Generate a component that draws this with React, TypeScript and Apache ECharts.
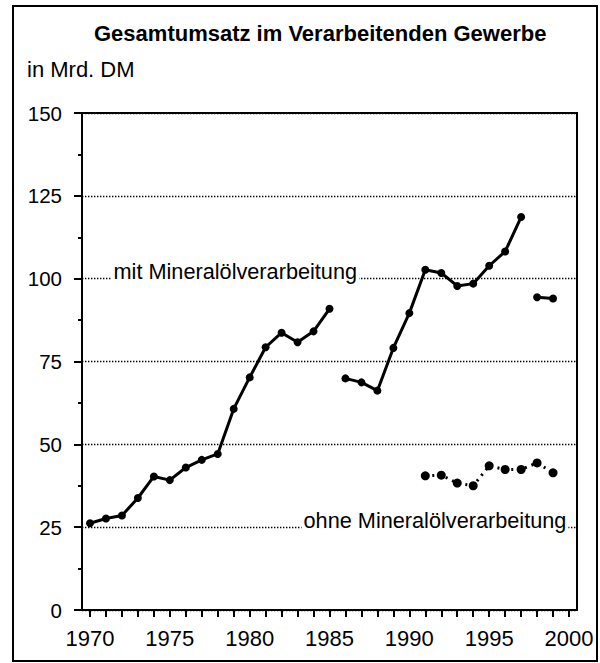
import React, { useEffect, useRef } from "react";
import * as echarts from "echarts";

const mitYearsA = [1970, 1971, 1972, 1973, 1974, 1975, 1976, 1977, 1978, 1979, 1980, 1981, 1982, 1983, 1984, 1985];
const mitValuesA = [26.2, 27.6, 28.5, 33.8, 40.3, 39.2, 43.0, 45.3, 47.1, 60.7, 70.2, 79.3, 83.7, 80.8, 84.1, 90.9];
const mitYearsB = [1986, 1987, 1988, 1989, 1990, 1991, 1992, 1993, 1994, 1995, 1996, 1997];
const mitValuesB = [69.9, 68.7, 66.2, 79.1, 89.6, 102.7, 101.7, 97.8, 98.5, 103.9, 108.2, 118.6];
const mitYearsC = [1998, 1999];
const mitValuesC = [94.4, 94.0];
const ohneYears = [1991, 1992, 1993, 1994, 1995, 1996, 1997, 1998, 1999];
const ohneValues = [40.5, 40.7, 38.3, 37.5, 43.5, 42.4, 42.4, 44.4, 41.4];
const tickYears = [1970, 1971, 1972, 1973, 1974, 1975, 1976, 1977, 1978, 1979, 1980, 1981, 1982, 1983, 1984, 1985, 1986, 1987, 1988, 1989, 1990, 1991, 1992, 1993, 1994, 1995, 1996, 1997, 1998, 1999, 2000];
const labelYears = [1970, 1975, 1980, 1985, 1990, 1995, 2000];

const TITLE = "Gesamtumsatz im Verarbeitenden Gewerbe";
const UNIT = "in Mrd. DM";
const MIT_LABEL = "mit Mineralölverarbeitung";
const OHNE_LABEL = "ohne Mineralölverarbeitung";

const FONT = "'Liberation Sans', Arial, Helvetica, sans-serif";

const pairs = (xs: number[], ys: number[]) => xs.map((x, i) => [x, ys[i]]);

export default function App() {
  const ref = useRef<HTMLDivElement>(null);
  useEffect(() => {
    if (!ref.current) return;
    const chart = echarts.init(ref.current, undefined, { renderer: "svg" });
    const solid = {
      type: "line",
      symbol: "circle",
      symbolSize: 8,
      lineStyle: { color: "#000", width: 3 },
      itemStyle: { color: "#000" },
      silent: true,
    };
    const annotationLabel = (text: string) => ({
      show: true,
      position: "right",
      distance: 0,
      offset: [0, -7],
      formatter: text,
      fontSize: 21.7,
      fontFamily: FONT,
      color: "#000",
      backgroundColor: "#fff",
      padding: [0, 2, 0, 2],
    });
    chart.setOption({
      animation: false,
      backgroundColor: "#fff",
      textStyle: { fontFamily: FONT, color: "#000" },
      title: {
        text: TITLE,
        left: 94,
        top: 22,
        padding: 0,
        textStyle: { fontFamily: FONT, fontSize: 22, fontWeight: "bold", color: "#000" },
      },
      graphic: [
        {
          type: "rect",
          shape: { x: 13, y: 6, width: 584, height: 655 },
          style: { fill: "none", stroke: "#000", lineWidth: 2 },
          silent: true,
        },
        {
          type: "text",
          left: 27,
          top: 58,
          style: { text: UNIT, font: `22px ${FONT}`, fill: "#000" },
        },
      ],
      grid: {
        left: 82,
        right: 23,
        top: 113,
        bottom: 53,
        show: true,
        borderColor: "#000",
        borderWidth: 2,
      },
      xAxis: {
        type: "value",
        min: 1969.5,
        max: 2000.5,
        axisLine: { show: true, lineStyle: { color: "#000", width: 2 } },
        axisTick: { show: true, customValues: tickYears, length: 7, lineStyle: { color: "#000", width: 2 } },
        axisLabel: {
          customValues: labelYears,
          formatter: (v: number) => String(v),
          fontSize: 22,
          color: "#000",
          margin: 17,
          fontFamily: FONT,
        },
        splitLine: { show: false },
      },
      yAxis: {
        type: "value",
        min: 0,
        max: 150,
        interval: 25,
        axisLine: { show: true, lineStyle: { color: "#000", width: 2 } },
        axisTick: { show: true, length: 8, lineStyle: { color: "#000", width: 2 } },
        minorTick: { show: true, splitNumber: 2, length: 4, lineStyle: { color: "#000", width: 2 } },
        axisLabel: { fontSize: 20.5, color: "#000", margin: 20, fontFamily: FONT },
        splitLine: { show: true, lineStyle: { color: "#000", width: 1.4, type: [1.4, 1.6] } },
      },
      series: [
        {
          ...solid,
          name: "mitA",
          data: pairs(mitYearsA, mitValuesA),
          markPoint: {
            symbol: "circle",
            symbolSize: 0,
            silent: true,
            data: [{ coord: [1971.35, 100], label: annotationLabel(MIT_LABEL) }],
          },
        },
        { ...solid, name: "mitB", data: pairs(mitYearsB, mitValuesB) },
        { ...solid, name: "mitC", data: pairs(mitYearsC, mitValuesC) },
        {
          type: "line",
          name: "ohne",
          symbol: "circle",
          symbolSize: 9,
          lineStyle: { color: "#000", width: 3, type: [2, 5] },
          itemStyle: { color: "#000" },
          silent: true,
          data: pairs(ohneYears, ohneValues),
          markPoint: {
            symbol: "circle",
            symbolSize: 0,
            silent: true,
            data: [{ coord: [1983.25, 25], label: annotationLabel(OHNE_LABEL) }],
          },
        },
      ],
    });
    return () => chart.dispose();
  }, []);
  return (
    <div
      ref={ref}
      style={{ position: "fixed", left: 0, top: 0, width: 600, height: 663, background: "#fff" }}
    />
  );
}
